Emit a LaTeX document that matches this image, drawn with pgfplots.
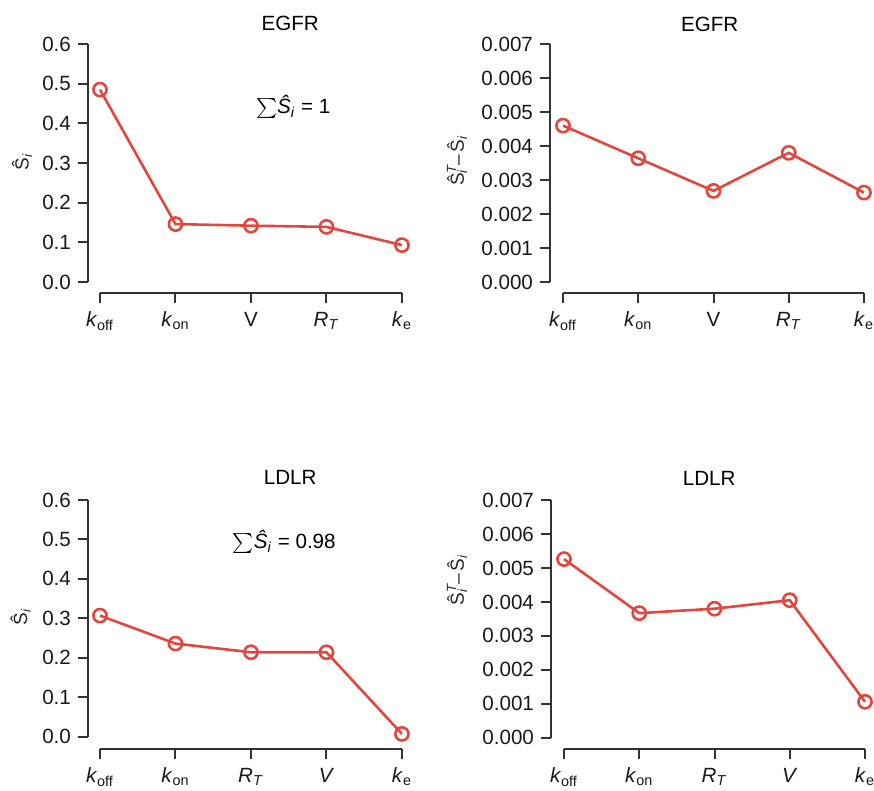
\documentclass[border=0pt]{standalone}
\usepackage{pgfplots}
\pgfplotsset{compat=1.18}
\usepackage{fontspec}
\setmainfont{Liberation Sans}
\definecolor{lred}{HTML}{E2473D}
\definecolor{axgray}{HTML}{333333}
\newcommand{\Shat}{\^{S}}
\newcommand{\SiLab}{\Shat\textsubscript{\textit{i}}}
\newcommand{\STLab}{\Shat\rlap{\textsuperscript{\textit{T}}}\textsubscript{\textit{i}}\,–\,\Shat\textsubscript{\textit{i}}}
\newcommand{\sub}[1]{\textsubscript{#1}}
\pgfplotsset{
  rstyle/.style={
    scale only axis, width=160.75pt, height=124.5pt,
    clip=false,
    axis line style={draw=none},
    xtick pos=bottom, ytick pos=left,
    tick align=outside, major tick length=5pt,
    tick style={axgray, line width=1pt},
    xtick={0,1,2,3,4},
    xmax=4.1,
    ticklabel style={font=\fontsize{10.3}{12}\selectfont, text=black!90},
    /pgf/number format/assume math mode=true,
    /pgf/number format/fixed,
    /pgf/number format/fixed zerofill,
    xticklabel style={yshift=-1pt},
    ylabel style={font=\fontsize{9.5}{11}\selectfont, anchor=center, text=black!85},
    every axis plot post/.style={lred, line width=1.3pt, mark=o, mark size=3.3pt,
      mark options={lred, fill=white, line width=1.3pt, solid}},
  },
  ax1/.style={rstyle, ymax=0.6, ytick={0,0.1,...,0.6},
    /pgf/number format/precision=1},
  ax2/.style={rstyle, ymax=0.007, ytick={0,0.001,...,0.007},
    /pgf/number format/precision=3,
    scaled y ticks=false},
}
\begin{document}
\begin{tikzpicture}
\useasboundingbox (0,0) rectangle (437pt,-395.5pt);

% Panel 1: EGFR first-order
\begin{axis}[ax1, at={(44pt,-146.5pt)}, anchor=south west,
  xmin=-0.159, ymin=-0.0277,
  xticklabels={\textit{k}\sub{off}, \textit{k}\sub{on}, V, \textit{R}\sub{\textit{T}}, \textit{k}\sub{e}},
  ylabel={\SiLab}, ylabel style={at={(axis description cs:-0.205,0.526)}}]
  \draw[axgray, line width=1pt] (axis cs:-0.159,0) -- (axis cs:-0.159,0.6);
  \draw[axgray, line width=1pt] (axis cs:0,-0.0277) -- (axis cs:4,-0.0277);
  \addplot coordinates {(0,0.485) (1,0.146) (2,0.142) (3,0.139) (4,0.093)};
  \node[font=\fontsize{10.3}{12}\selectfont] at (axis cs:2.52,0.653) {EGFR};
  \node[font=\fontsize{10.3}{12}\selectfont] at (axis cs:2.56,0.441) {$\sum$\textit{\Shat}\textsubscript{\textit{i}} = 1};
\end{axis}

% Panel 2: EGFR total minus first
\begin{axis}[ax2, at={(275pt,-146.5pt)}, anchor=south west,
  xmin=-0.173, ymin=-0.000322,
  xticklabels={\textit{k}\sub{off}, \textit{k}\sub{on}, V, \textit{R}\sub{\textit{T}}, \textit{k}\sub{e}},
  ylabel={\STLab}, ylabel style={at={(axis description cs:-0.289,0.532)}}]
  \draw[axgray, line width=1pt] (axis cs:-0.173,0) -- (axis cs:-0.173,0.007);
  \draw[axgray, line width=1pt] (axis cs:0,-0.000322) -- (axis cs:4,-0.000322);
  \addplot coordinates {(0,0.00460) (1,0.00364) (2,0.00268) (3,0.00380) (4,0.00263)};
  \node[font=\fontsize{10.3}{12}\selectfont] at (axis cs:1.95,0.00759) {EGFR};
\end{axis}

% Panel 3: LDLR first-order
\begin{axis}[ax1, at={(44pt,-374.5pt)}, anchor=south west,
  xmin=-0.159, ymin=-0.0312,
  xticklabels={\textit{k}\sub{off}, \textit{k}\sub{on}, \textit{R}\sub{\textit{T}}, \textit{V}, \textit{k}\sub{e}},
  ylabel={\SiLab}, ylabel style={at={(axis description cs:-0.21,0.53)}}]
  \draw[axgray, line width=1pt] (axis cs:-0.159,0) -- (axis cs:-0.159,0.6);
  \draw[axgray, line width=1pt] (axis cs:0,-0.0312) -- (axis cs:4,-0.0312);
  \addplot coordinates {(0,0.307) (1,0.236) (2,0.214) (3,0.214) (4,0.007)};
  \node[font=\fontsize{10.3}{12}\selectfont] at (axis cs:2.52,0.656) {LDLR};
  \node[font=\fontsize{10.3}{12}\selectfont] at (axis cs:2.44,0.494) {$\sum$\textit{\Shat}\textsubscript{\textit{i}} = 0.98};
\end{axis}

% Panel 4: LDLR total minus first
\begin{axis}[ax2, at={(275.5pt,-374.5pt)}, anchor=south west,
  xmin=-0.173, ymin=-0.00033,
  xticklabels={\textit{k}\sub{off}, \textit{k}\sub{on}, \textit{R}\sub{\textit{T}}, \textit{V}, \textit{k}\sub{e}},
  ylabel={\STLab}, ylabel style={at={(axis description cs:-0.292,0.68)}}]
  \draw[axgray, line width=1pt] (axis cs:-0.173,0) -- (axis cs:-0.173,0.007);
  \draw[axgray, line width=1pt] (axis cs:0,-0.00033) -- (axis cs:4,-0.00033);
  \addplot coordinates {(0,0.00526) (1,0.00367) (2,0.00380) (3,0.00405) (4,0.00106)};
  \node[font=\fontsize{10.3}{12}\selectfont] at (axis cs:1.93,0.00765) {LDLR};
\end{axis}
\end{tikzpicture}
\end{document}
